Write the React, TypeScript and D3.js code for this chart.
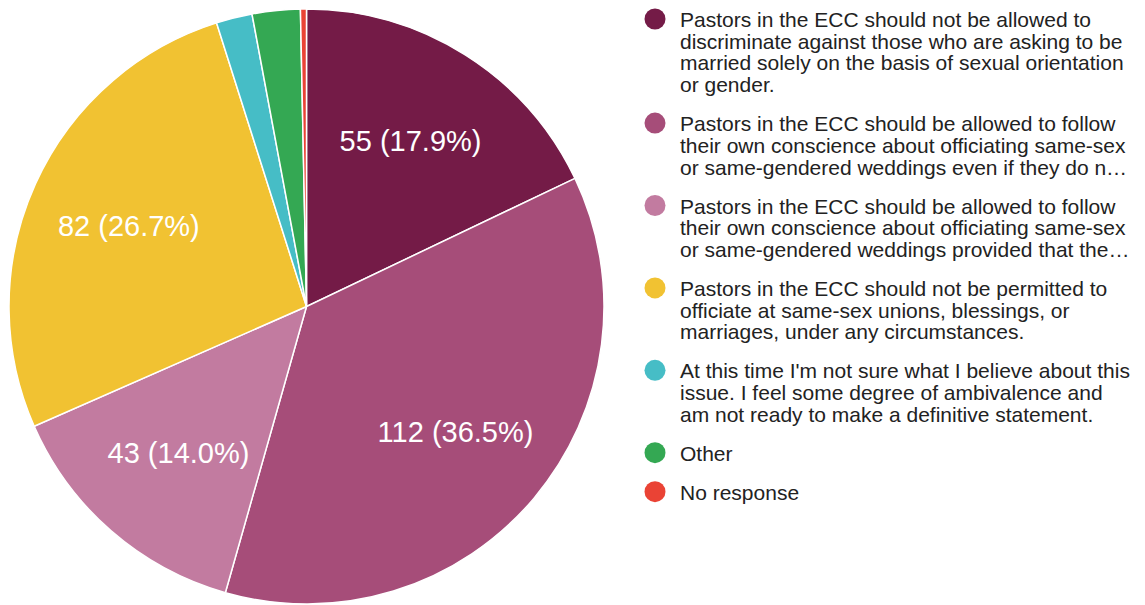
import React from "react";
import * as d3 from "d3";

const categories: string[][] = [
  ["Pastors in the ECC should not be allowed to", "discriminate against those who are asking to be", "married solely on the basis of sexual orientation", "or gender."],
  ["Pastors in the ECC should be allowed to follow", "their own conscience about officiating same-sex", "or same-gendered weddings even if they do n…"],
  ["Pastors in the ECC should be allowed to follow", "their own conscience about officiating same-sex", "or same-gendered weddings provided that the…"],
  ["Pastors in the ECC should not be permitted to", "officiate at same-sex unions, blessings, or", "marriages, under any circumstances."],
  ["At this time I'm not sure what I believe about this", "issue. I feel some degree of ambivalence and", "am not ready to make a definitive statement."],
  ["Other"],
  ["No response"],
];
const values: number[] = [55, 112, 43, 82, 6, 8, 1];
const colors: string[] = ["#741b47", "#a64d79", "#c27ba0", "#f1c232", "#46bdc6", "#34a853", "#ea4335"];

export default function App() {
  const W = 1145, H = 605;
  const cx = 306.5, cy = 306.5, R = 297.5;
  const total = d3.sum(values);
  const pie = d3.pie<number>().sort(null).value((d) => d);
  const arcs = pie(values);
  const arcGen = d3.arc<d3.PieArcDatum<number>>().innerRadius(0).outerRadius(R);
  const lineH = 21.7, gap = 17.3;
  let y = 19;
  const legendY: number[] = categories.map((c) => {
    const cur = y;
    y += c.length * lineH + gap;
    return cur;
  });
  return (
    <svg width={W} height={H} style={{ position: "absolute", left: 0, top: 0, background: "#fff" }} fontFamily="Arial, 'Liberation Sans', sans-serif">
      <g transform={`translate(${cx},${cy})`}>
        {arcs.map((a, i) => (
          <path key={i} d={arcGen(a) || ""} fill={colors[i]} stroke="#fff" strokeWidth={1.5} />
        ))}
        {arcs.map((a, i) => {
          if (a.data / total < 0.05) return null;
          const mid = (a.startAngle + a.endAngle) / 2;
          const r = 195;
          const x = Math.sin(mid) * r;
          const yy = -Math.cos(mid) * r;
          return (
            <text key={i} x={x} y={yy} dy="0.33em" textAnchor="middle" fill="#fff" fontSize={29}>
              {`${a.data} (${((a.data / total) * 100).toFixed(1)}%)`}
            </text>
          );
        })}
      </g>
      {categories.map((lines, i) => (
        <g key={i}>
          <circle cx={655} cy={legendY[i]} r={10.5} fill={colors[i]} />
          {lines.map((l, j) => (
            <text key={j} x={680} y={legendY[i] + 8 + j * lineH} fontSize={21} fill="#222">
              {l}
            </text>
          ))}
        </g>
      ))}
    </svg>
  );
}
